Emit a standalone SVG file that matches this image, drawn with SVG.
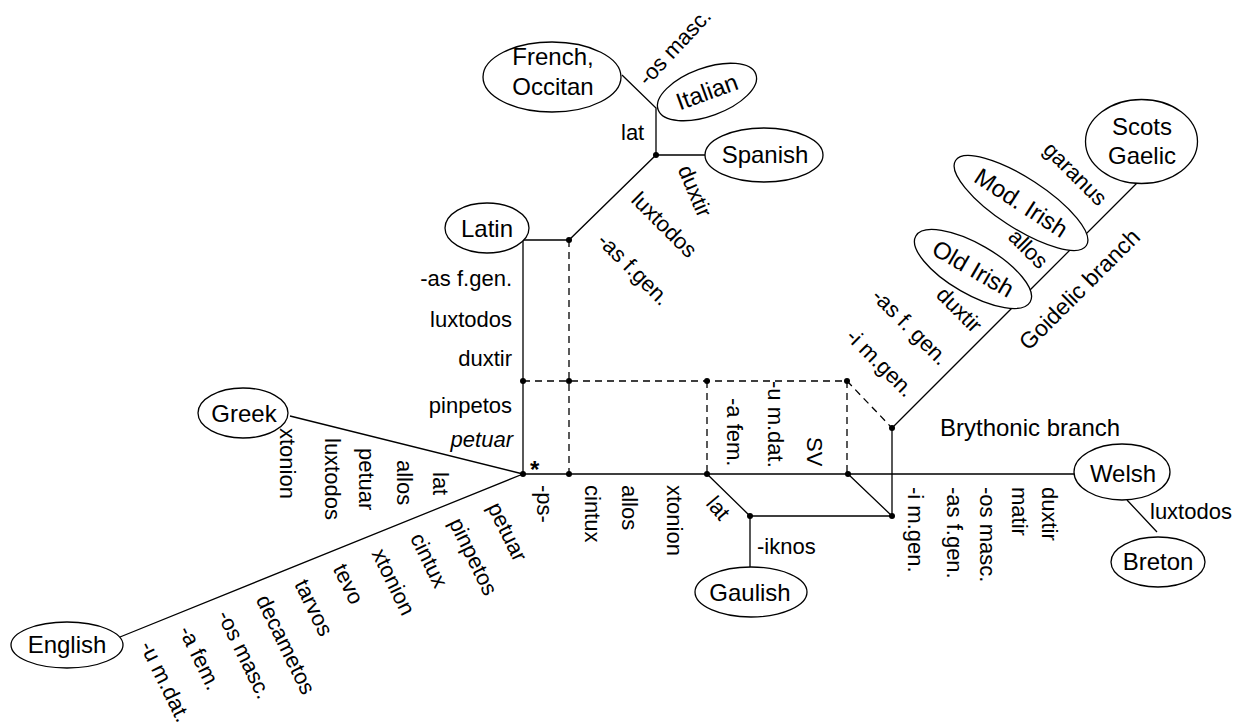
<svg xmlns="http://www.w3.org/2000/svg" width="1235" height="725" viewBox="0 0 1235 725">
<style>
text{font-family:"Liberation Sans",Arial,sans-serif;font-size:22px;fill:#000}
.c{stroke:#000;stroke-width:1.3;fill:none}
.d{stroke-dasharray:7 5}
.n ellipse{fill:#fff;stroke:#000;stroke-width:1.3}
.n text{font-size:24px;text-anchor:middle}
.m{text-anchor:middle}
.e{text-anchor:end}
.b24{font-size:24px}
.b23{font-size:23px}
.dot{fill:#000}
</style>
<rect width="1235" height="725" fill="#fff"/>
<g id="connectors">
<path class="c" d="M523 474H1074M523 240V474M523 240H569L656 155H705M656 155V108L622 75M290 416L523 474M120 637L523 474M707 474L750 516H892M848 474L892 516M750 516V567M892 428V516M892 428L1137 183M1127 500L1157 532"/>
<path class="c d" d="M569 240V474M523 381H847M707 381V474M847 381V474M847 381L892 428"/>
<g class="dot">
<circle cx="523" cy="474" r="3"/><circle cx="569" cy="474" r="3"/><circle cx="707" cy="474" r="3"/><circle cx="848" cy="474" r="3"/>
<circle cx="523" cy="381" r="3"/><circle cx="569" cy="381" r="3"/><circle cx="707" cy="381" r="3"/><circle cx="847" cy="381" r="3"/>
<circle cx="569" cy="240" r="3"/><circle cx="656" cy="155" r="3"/><circle cx="892" cy="428" r="3"/><circle cx="892" cy="516" r="3"/><circle cx="750" cy="516" r="3"/>
</g>
</g>
<g id="french" class="n"><ellipse cx="552" cy="77" rx="69" ry="35"/><text x="553" y="65">French,</text><text x="553" y="95">Occitan</text></g>
<g id="italian" class="n" transform="translate(707 92) rotate(-20)"><ellipse rx="52" ry="24"/><text y="8">Italian</text></g>
<g id="spanish" class="n"><ellipse cx="764" cy="155" rx="59" ry="27"/><text x="765" y="163">Spanish</text></g>
<g id="latin" class="n"><ellipse cx="487" cy="228" rx="42" ry="25"/><text x="487" y="237">Latin</text></g>
<g id="greek" class="n"><ellipse cx="243" cy="413" rx="45" ry="25"/><text x="244" y="422">Greek</text></g>
<g id="english" class="n"><ellipse cx="67" cy="645" rx="56" ry="23"/><text x="67" y="653">English</text></g>
<g id="gaulish" class="n"><ellipse cx="751" cy="592" rx="56" ry="25"/><text x="750" y="601">Gaulish</text></g>
<g id="welsh" class="n"><ellipse cx="1122" cy="472" rx="48" ry="28"/><text x="1123" y="482">Welsh</text></g>
<g id="breton" class="n"><ellipse cx="1158" cy="562" rx="47" ry="25"/><text x="1158" y="570">Breton</text></g>
<g id="oldirish" class="n" transform="translate(973 269) rotate(30)"><ellipse rx="66" ry="25"/><text y="8">Old Irish</text></g>
<g id="modirish" class="n" transform="translate(1021 203) rotate(33)"><ellipse rx="78" ry="25"/><text y="8">Mod. Irish</text></g>
<g id="scotsgaelic" class="n"><ellipse cx="1141.5" cy="141.5" rx="56" ry="42"/><text x="1142" y="135">Scots</text><text x="1142" y="164">Gaelic</text></g>
<g id="labels">
<text class="e" x="512" y="286">-as f.gen.</text>
<text class="e" x="512" y="327">luxtodos</text>
<text class="e" x="512" y="366">duxtir</text>
<text class="e" x="512" y="413">pinpetos</text>
<text class="e" x="513" y="447" font-style="italic">petuar</text>
<text class="b24" x="530" y="478" font-weight="bold">*</text>
<text transform="translate(537 485) rotate(90)">-ps-</text>
<text transform="translate(585 485) rotate(90)">cintux</text>
<text transform="translate(622 485) rotate(90)">allos</text>
<text transform="translate(667 485) rotate(90)">xtonion</text>
<text transform="translate(727 398) rotate(90)">-a fem.</text>
<text transform="translate(768 381) rotate(90)">-u m.dat.</text>
<text transform="translate(807 437) rotate(90)">SV</text>
<text transform="translate(908 487) rotate(90)">-i m.gen.</text>
<text transform="translate(947 487) rotate(90)">-as f.gen.</text>
<text transform="translate(980 487) rotate(90)">-os masc.</text>
<text transform="translate(1012 487) rotate(90)">matir</text>
<text transform="translate(1042 487) rotate(90)">duxtir</text>
<text transform="translate(280 428) rotate(90)">xtonion</text>
<text transform="translate(325 438) rotate(90)">luxtodos</text>
<text transform="translate(359 448) rotate(90)">petuar</text>
<text transform="translate(397 460) rotate(90)">allos</text>
<text transform="translate(433 472) rotate(90)">lat</text>
<text transform="translate(487 507) rotate(64)">petuar</text>
<text transform="translate(448.4 522.4) rotate(64)">pinpetos</text>
<text transform="translate(409.8 537.8) rotate(64)">cintux</text>
<text transform="translate(371.2 553.2) rotate(64)">xtonion</text>
<text transform="translate(332.6 568.6) rotate(64)">tevo</text>
<text transform="translate(294 584) rotate(64)">tarvos</text>
<text transform="translate(255.4 599.4) rotate(64)">decametos</text>
<text transform="translate(216.8 614.8) rotate(64)">-os masc.</text>
<text transform="translate(178.2 630.2) rotate(64)">-a fem.</text>
<text transform="translate(139.6 645.6) rotate(64)">-u m.dat.</text>
<text transform="translate(705 504) rotate(50)">lat</text>
<text x="757" y="554">-iknos</text>
<text class="b24" x="940" y="436">Brythonic branch</text>
<text x="1150" y="519">luxtodos</text>
<text class="m" transform="translate(954 315) rotate(45)">duxtir</text>
<text class="m" transform="translate(905 332) rotate(45)">-as f. gen.</text>
<text class="m" transform="translate(875 368) rotate(45)">-i m.gen.</text>
<text class="m" transform="translate(1023 254) rotate(45)">allos</text>
<text class="m" transform="translate(1070 179) rotate(45)">garanus</text>
<text class="m b23" transform="translate(1085 295) rotate(-45)">Goidelic branch</text>
<text class="m" transform="translate(688 194) rotate(67)">duxtir</text>
<text class="m" transform="translate(659 230) rotate(45)">luxtodos</text>
<text class="m" transform="translate(628.5 274.5) rotate(45)">-as f.gen.</text>
<text class="m" transform="translate(680 52) rotate(-47)">-os masc.</text>
<text x="621" y="140">lat</text>
</g>
</svg>
